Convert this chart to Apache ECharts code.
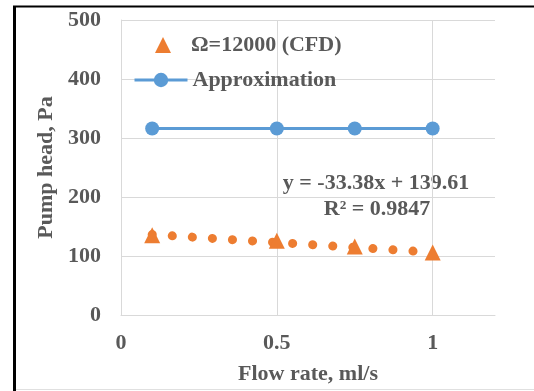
<!DOCTYPE html>
<html>
<head>
<meta charset="utf-8">
<script src="https://cdn.jsdelivr.net/npm/echarts@6/dist/echarts.min.js"></script>
<style>
  html, body { margin: 0; padding: 0; background: #fff; }
  #chart { width: 534px; height: 391px; }
</style>
</head>
<body>
<div id="chart"></div>
<script>
// values
const cfdFlow = [0.1, 0.5, 0.75, 1];
const cfdHead = [135, 126, 116, 106];
const approxFlow = [0.1, 0.5, 0.75, 1];
const approxHead = [316, 316, 316, 316];
const trendFlow = [0.1, 1];
const trendHead = [136.3, 106.2];
const xTicks = [0, 0.5, 1];
const eqText = ['y = -33.38x + 139.61', 'R\u00b2 = 0.9847'];

const font = 'Liberation Serif';
const grey = '#595959';
const orange = '#ED7D31';
const blue = '#5B9BD5';
const fs = 22;

const pairs = (xs, ys) => xs.map((x, i) => [x, ys[i]]);
const txt = { fontFamily: font, fontWeight: 'bold', fontSize: fs, color: grey };

const chart = echarts.init(document.getElementById('chart'));
chart.setOption({
  animation: false,
  grid: { left: 121, right: 39, top: 20, bottom: 76 },
  legend: [
    {
      left: 150,
      top: 29,
      itemWidth: 16,
      itemHeight: 16,
      textStyle: Object.assign({ padding: [0, 0, 0, 15] }, txt),
      data: [{ name: 'Ω=12000 (CFD)', icon: 'triangle' }]
    },
    {
      left: 128,
      top: 64,
      itemWidth: 53,
      itemHeight: 18,
      lineStyle: { width: 3 },
      textStyle: txt,
      data: [{ name: 'Approximation' }]
    }
  ],
  xAxis: {
    type: 'value',
    min: 0,
    max: 1.2,
    interval: 0.5,
    name: 'Flow rate, ml/s',
    nameLocation: 'middle',
    nameGap: 48,
    nameTextStyle: txt,
    axisLine: { lineStyle: { color: '#D9D9D9', width: 1 } },
    axisTick: { show: false },
    axisLabel: Object.assign({
      margin: 17,
      showMaxLabel: false,
      formatter: v => (xTicks.includes(v) ? String(v) : '')
    }, txt),
    splitLine: { show: true, showMaxLine: false, lineStyle: { color: '#D9D9D9', width: 1 } }
  },
  yAxis: {
    type: 'value',
    min: 0,
    max: 500,
    interval: 100,
    name: 'Pump head, Pa',
    nameLocation: 'middle',
    nameGap: 64,
    nameTextStyle: txt,
    axisLine: { show: true, lineStyle: { color: '#D9D9D9', width: 1 } },
    axisTick: { show: false },
    axisLabel: Object.assign({ margin: 20 }, txt),
    splitLine: { lineStyle: { color: '#D9D9D9', width: 1 } }
  },
  series: [
    {
      name: 'trend',
      type: 'line',
      data: pairs(trendFlow, trendHead),
      showSymbol: false,
      silent: true,
      z: 1,
      lineStyle: { color: orange, width: 9, type: [0.1, 20], cap: 'round' }
    },
    {
      name: 'Ω=12000 (CFD)',
      type: 'scatter',
      data: pairs(cfdFlow, cfdHead),
      symbol: 'triangle',
      symbolSize: 16,
      itemStyle: { color: orange, opacity: 1 },
      z: 3
    },
    {
      name: 'Approximation',
      type: 'line',
      data: pairs(approxFlow, approxHead),
      symbol: 'circle',
      symbolSize: 14,
      showAllSymbol: true,
      itemStyle: { color: blue },
      lineStyle: { color: blue, width: 3 },
      z: 3
    }
  ],
  graphic: [
    {
      type: 'text', x: 376, y: 183,
      style: { text: eqText[0], fontFamily: font, fontWeight: 'bold', fontSize: fs, fill: grey, align: 'center', verticalAlign: 'middle' }
    },
    {
      type: 'text', x: 377, y: 209,
      style: { text: eqText[1], fontFamily: font, fontWeight: 'bold', fontSize: fs, fill: grey, align: 'center', verticalAlign: 'middle' }
    },
    { type: 'line', shape: { x1: 14.5, y1: 6, x2: 14.5, y2: 391 }, style: { stroke: '#000', lineWidth: 3 } },
    { type: 'line', shape: { x1: 13, y1: 6.5, x2: 534, y2: 6.5 }, style: { stroke: '#000', lineWidth: 2 } },
    { type: 'line', shape: { x1: 16, y1: 389.5, x2: 534, y2: 389.5 }, style: { stroke: '#E0E0E0', lineWidth: 1 } }
  ]
});
</script>
</body>
</html>
